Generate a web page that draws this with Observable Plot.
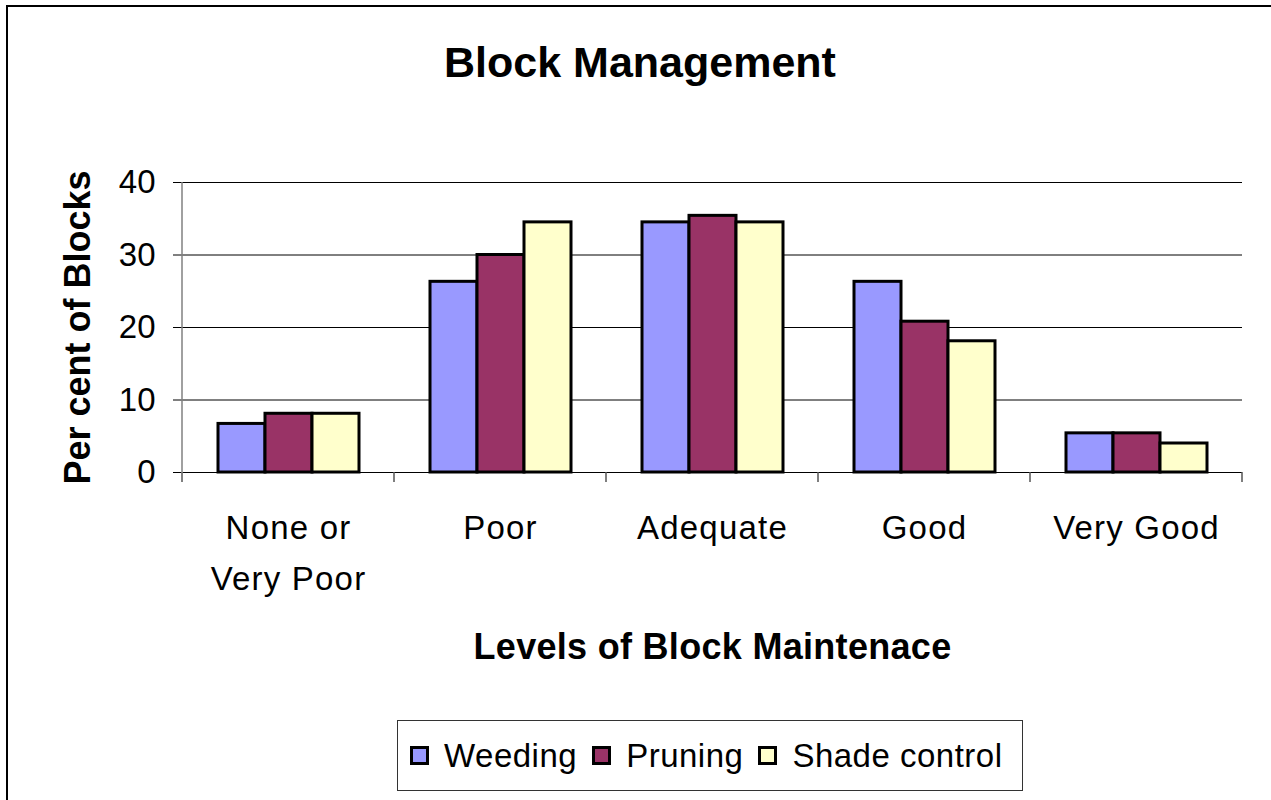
<!DOCTYPE html>
<html><head><meta charset="utf-8">
<script src="https://cdn.jsdelivr.net/npm/d3@7"></script>
<script src="https://cdn.jsdelivr.net/npm/@observablehq/plot@0.6"></script>
<style>
html,body{margin:0;padding:0;background:#fff;overflow:hidden;}
#wrap{position:relative;width:1271px;height:800px;font-family:"Liberation Sans",Arial,sans-serif;color:#000;}
#border{position:absolute;left:6px;top:5px;width:1400px;height:1000px;border:2px solid #000;box-sizing:border-box;}
#title{position:absolute;left:0;width:1280px;top:41px;text-align:center;font-weight:bold;font-size:43px;line-height:43px;}
#chart{position:absolute;left:0;top:110px;}
#legend{position:absolute;left:397px;top:720px;width:626px;height:71px;box-sizing:border-box;border:1px solid #333;display:flex;align-items:center;padding-left:12px;font-size:33px;letter-spacing:0.5px;background:#fff;}
.sw{width:19px;height:19px;box-sizing:border-box;border:3px solid #000;margin-right:15px;flex:none;}
.lab{margin-right:15px;white-space:nowrap;}
#chart svg g[aria-label="fx-axis tick label"] text{letter-spacing:1.2px;}
#chart svg g[aria-label="fx-axis label"] text{letter-spacing:0.3px;}
</style></head>
<body>
<div id="wrap">
  <div id="border"></div>
  <div id="title">Block Management</div>
  <div id="chart"></div>
  <div id="legend"></div>
</div>
<script>
const categories = ["None or Very Poor", "Poor", "Adequate", "Good", "Very Good"];
const categoryLabels = ["None or\nVery Poor", "Poor", "Adequate", "Good", "Very Good"];
const series = ["Weeding", "Pruning", "Shade control"];
const weeding = [6.7, 26.3, 34.5, 26.3, 5.4];
const pruning = [8.1, 30.0, 35.4, 20.8, 5.4];
const shadeControl = [8.1, 34.5, 34.5, 18.1, 4.0];
const colors = ["#9999FF", "#993366", "#FFFFCC"];
const yTicks = [0, 10, 20, 30, 40];
const yTitle = "Per cent of Blocks";
const xTitle = "Levels of Block Maintenace";

const seriesValues = [weeding, pruning, shadeControl];
const rows = [];
categories.forEach((c, i) => {
  series.forEach((s, j) => rows.push({category: c, series: s, value: seriesValues[j][i]}));
});

const chart = Plot.plot({
  width: 1271,
  height: 560,
  marginTop: 72,
  marginBottom: 198,
  marginLeft: 180,
  marginRight: 28,
  style: {fontFamily: "Liberation Sans, Arial, sans-serif", fontSize: "32px", background: "transparent", color: "#000"},
  fx: {domain: categories, padding: 0, label: null},
  x: {domain: series, paddingInner: 0, paddingOuter: 0.75, axis: null},
  y: {domain: [0, 40]},
  color: {domain: series, range: colors},
  marks: [
    Plot.gridY(yTicks, {stroke: "#000", strokeOpacity: 1, strokeWidth: 1}),
    Plot.barY(rows, {fx: "category", x: "series", y: "value", fill: "series", stroke: "#000", strokeWidth: 3}),
    Plot.axisY(yTicks, {tickSize: 9, tickPadding: 18, fontSize: 33, label: null, stroke: "#000"}),
    Plot.axisY([], {label: yTitle, labelAnchor: "center", labelArrow: "none", labelOffset: 118, fontSize: 36, fontWeight: "bold", tickSize: 0}),
    Plot.axisFx({anchor: "bottom", tickSize: 0, tickPadding: 30, fontSize: 33, lineHeight: 1.55,
      tickFormat: d => categoryLabels[categories.indexOf(d)], label: null}),
    Plot.axisFx([], {anchor: "bottom", label: xTitle, labelAnchor: "center", labelArrow: "none", labelOffset: 186, fontSize: 36, fontWeight: "bold", tickSize: 0})
  ]
});
document.getElementById("chart").appendChild(chart);

// axis line and category boundary ticks from the plot's own scales
let fxS = chart.scale("fx"), yS = chart.scale("y");
if (!fxS.apply) fxS = Plot.scale({fx: fxS});
if (!yS.apply) yS = Plot.scale({y: yS});
const bw = fxS.bandwidth;
const y0 = yS.apply(0), yTop = yS.apply(40);
const bounds = categories.map(c => fxS.apply(c)).concat([fxS.apply(categories[categories.length - 1]) + bw]);
const g = d3.select(chart).append("g");
g.selectAll("line.bt").data(bounds).join("line")
  .attr("x1", d => d).attr("x2", d => d)
  .attr("y1", y0).attr("y2", y0 + 10)
  .attr("stroke", "#555").attr("stroke-width", 1.5);
g.append("line")
  .attr("x1", bounds[0]).attr("x2", bounds[0])
  .attr("y1", yTop).attr("y2", y0 + 10)
  .attr("stroke", "#808080").attr("stroke-width", 1.5);

// legend
const legend = d3.select("#legend");
series.forEach((s, i) => {
  legend.append("div").attr("class", "sw").style("background", colors[i]);
  legend.append("div").attr("class", "lab").text(s);
});
</script>
</body></html>
